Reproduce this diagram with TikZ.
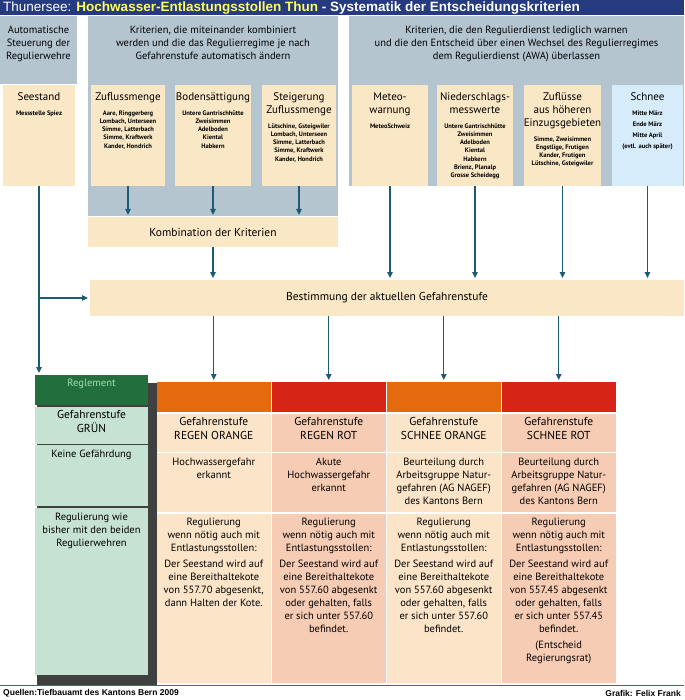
\documentclass[tikz,border=0pt]{standalone}
\usepackage{fontspec}
\setmainfont{PT Sans}
\newfontfamily\arialfont{Liberation Sans}
\usetikzlibrary{positioning, arrows.meta}

\definecolor{titlebg}{RGB}{38,58,128}
\definecolor{titleyel}{RGB}{255,255,90}
\definecolor{blockgray}{RGB}{180,197,208}
\definecolor{sand}{RGB}{250,231,198}
\definecolor{snow}{RGB}{214,236,250}
\definecolor{arrowteal}{RGB}{28,92,114}
\definecolor{regdark}{RGB}{34,110,60}
\definecolor{reglight}{RGB}{198,226,210}
\definecolor{regtext}{RGB}{160,224,170}
\definecolor{stufeorange}{RGB}{228,106,12}
\definecolor{stuferot}{RGB}{214,36,22}
\definecolor{peach}{RGB}{252,228,200}
\definecolor{salmon}{RGB}{247,204,180}
\definecolor{footline}{RGB}{70,96,168}

\begin{document}
\begin{tikzpicture}[x=1pt, y=-1pt,
    panel/.style={anchor=north west, inner sep=0, outer sep=0},
    flow/.style={draw=arrowteal, line width=1.4pt, shorten >=2pt, -{Triangle[length=6pt, width=5.5pt]}},
    blocktext/.style={anchor=north, align=center, inner sep=0, font=\fontsize{10.5}{13}\selectfont},
    boxtitle/.style={anchor=north, align=center, inner sep=0, font=\fontsize{11}{13}\selectfont},
    boxlist/.style={anchor=north, align=center, inner sep=0, font=\fontsize{6.5}{8.2}\selectfont\bfseries},
    celltext/.style={anchor=north, align=center, inner sep=0, font=\fontsize{10.5}{13}\selectfont},
    stufetext/.style={align=center, text depth=8pt, font=\fontsize{11.5}{14}\selectfont}]
  \useasboundingbox (0,0) rectangle (684,700);

  % title bar
  \node[panel, fill=titlebg, minimum width=684pt, minimum height=15.5pt] (titlebar) at (0,0) {};
  \node[anchor=west, inner sep=0, text=white, font=\arialfont\bfseries\fontsize{13.5}{15}\selectfont] (title) at (3,7.8)
    {{\mdseries Thunersee:} \textcolor{titleyel}{Hochwasser-Entlastungsstollen Thun} - Systematik der Entscheidungskriterien};

  % grey groups
  \node[panel, fill=blockgray, minimum width=77pt, minimum height=68pt] (steuerung) at (0,16.5) {};
  \node[panel, fill=blockgray, minimum width=250pt, minimum height=199.5pt] (kombiniert) at (88,16.5) {};
  \node[panel, fill=blockgray, minimum width=335pt, minimum height=169.5pt] (warnen) at (349,16.5) {};
  \node[blocktext, below=9pt of steuerung.north] (steuerung-t) {Automatische\\Steuerung der\\Regulierwehre};
  \node[blocktext, below=9pt of kombiniert.north] (kombiniert-t) {Kriterien, die miteinander kombiniert\\werden und die das Regulierregime je nach\\Gefahrenstufe automatisch ändern};
  \node[blocktext, below=9pt of warnen.north] (warnen-t) {Kriterien, die den Regulierdienst lediglich warnen\\und die den Entscheid über einen Wechsel des Regulierregimes\\dem Regulierdienst (AWA) überlassen};

  % criteria
  \foreach \n/\x/\w/\c/\t/\l in {
      seestand/3/72/sand/{Seestand}/{Messstelle Spiez},
      zufluss/91/74/sand/{Zuflussmenge}/{Aare, Ringgerberg\\Lombach, Unterseen\\Simme, Latterbach\\Simme, Kraftwerk\\Kander, Hondrich},
      boden/175/76/sand/{Bodensättigung}/{Untere Gantrischhütte\\Zweisimmen\\Adelboden\\Kiental\\Habkern},
      steigerung/262/74/sand/{Steigerung\\Zuflussmenge}/{Lütschine, Gsteigwiler\\Lombach, Unterseen\\Simme, Latterbach\\Simme, Kraftwerk\\Kander, Hondrich},
      meteo/352/76/sand/{Meteo-\\warnung}/{MeteoSchweiz},
      nieder/437/76/sand/{Niederschlags-\\messwerte}/{Untere Gantrischhütte\\Zweisimmen\\Adelboden\\Kiental\\Habkern\\Brienz, Planalp\\Grosse Scheidegg},
      hoeher/524/77/sand/{Zuflüsse\\aus höheren\\Einzugsgebieten}/{Simme, Zweisimmen\\Engstlige, Frutigen\\Kander, Frutigen\\Lütschine, Gsteigwiler},
      schnee/612/71/snow/{Schnee}/{Mitte März\\[2.8pt]Ende März\\[2.8pt]Mitte April\\[2.8pt](evtl. auch später)}}
  {
    \node[panel, fill=\c, minimum width=\w pt, minimum height=101pt] (\n) at (\x,85) {};
    \node[boxtitle, below=6pt of \n.north] (\n-t) {\strut\t\strut};
    \node[boxlist, below=6pt of \n-t] (\n-l) {\l};
  }

  \node[panel, fill=sand, minimum width=250pt, minimum height=30pt, font=\fontsize{11.5}{13}\selectfont] (kombi) at (88,217) {Kombination der Kriterien};
  \node[panel, fill=sand, minimum width=594pt, minimum height=36pt, font=\fontsize{11.5}{13}\selectfont] (bestimmung) at (90,280) {Bestimmung der aktuellen Gefahrenstufe};

  % Reglement
  \node[panel, fill=black!75, minimum width=120pt, minimum height=302pt] (shadow) at (37,383) {};
  \node[panel, fill=regdark, minimum width=113pt, minimum height=30pt] (reg-h) at (35,375) {};
  \node[anchor=north, inner sep=0, text=regtext, font=\fontsize{10.5}{12}\selectfont, below=4pt of reg-h.north] (reg-h-t) {Reglement};
  \node[panel, fill=reglight, minimum width=113pt, minimum height=37pt, stufetext] (reg-s) at (35,406.5) {Gefahrenstufe\\GRÜN};
  \node[panel, fill=reglight, minimum width=113pt, minimum height=61pt] (reg-d) at (35,445) {};
  \node[panel, fill=reglight, minimum width=113pt, minimum height=167pt] (reg-r) at (35,508) {};
  \node[celltext, below=5pt of reg-d.north] (reg-d-t) {Keine Gefährdung};
  \node[celltext, below=5pt of reg-r.north] (reg-r-t) {Regulierung wie\\bisher mit den beiden\\Regulierwehren};

  % Gefahrenstufen
  \foreach \i/\x/\hc/\bc/\stufe in {1/157/stufeorange/peach/{REGEN ORANGE}, 2/272/stuferot/salmon/{REGEN ROT},
      3/387/stufeorange/peach/{SCHNEE ORANGE}, 4/502/stuferot/salmon/{SCHNEE ROT}}
  {
    \node[panel, fill=\hc, minimum width=113.5pt, minimum height=30pt] (h\i) at (\x,382) {};
    \node[panel, fill=\bc, minimum width=113.5pt, minimum height=38pt, stufetext] (s\i) at (\x,413.5) {Gefahrenstufe\\\stufe};
    \node[panel, fill=\bc, minimum width=113.5pt, minimum height=58.5pt] (d\i) at (\x,453) {};
    \node[panel, fill=\bc, minimum width=113.5pt, minimum height=169pt] (r\i) at (\x,514) {};
  }
  \node[celltext, below=5pt of d1.north] (d1-t) {Hochwassergefahr\\erkannt};
  \node[celltext, below=5pt of d2.north] (d2-t) {Akute\\Hochwassergefahr\\erkannt};
  \node[celltext, below=5pt of d3.north] (d3-t) {Beurteilung durch\\Arbeitsgruppe Natur-\\gefahren (AG NAGEF)\\des Kantons Bern};
  \node[celltext, below=5pt of d4.north] (d4-t) {Beurteilung durch\\Arbeitsgruppe Natur-\\gefahren (AG NAGEF)\\des Kantons Bern};
  \node[celltext, below=4pt of r1.north] (r1-t) {Regulierung\\wenn nötig auch mit\\Entlastungsstollen:\\[3pt]Der Seestand wird auf\\eine Bereithaltekote\\von 557.70 abgesenkt,\\dann Halten der Kote.};
  \node[celltext, below=4pt of r2.north] (r2-t) {Regulierung\\wenn nötig auch mit\\Entlastungsstollen:\\[3pt]Der Seestand wird auf\\eine Bereithaltekote\\von 557.60 abgesenkt\\oder gehalten, falls\\er sich unter 557.60\\befindet.};
  \node[celltext, below=4pt of r3.north] (r3-t) {Regulierung\\wenn nötig auch mit\\Entlastungsstollen:\\[3pt]Der Seestand wird auf\\eine Bereithaltekote\\von 557.60 abgesenkt\\oder gehalten, falls\\er sich unter 557.60\\befindet.};
  \node[celltext, below=4pt of r4.north] (r4-t) {Regulierung\\wenn nötig auch mit\\Entlastungsstollen:\\[3pt]Der Seestand wird auf\\eine Bereithaltekote\\von 557.45 abgesenkt\\oder gehalten, falls\\er sich unter 557.45\\befindet.\\[3pt](Entscheid\\Regierungsrat)};

  % arrows
  \draw[flow] (seestand.south) -- (seestand.south |- reg-h.north);
  \coordinate (branch) at (seestand.south |- bestimmung.west);
  \draw[flow] (branch) -- (bestimmung.west);
  \foreach \n in {zufluss, boden, steigerung}
    \draw[flow] (\n.south) -- (\n.south |- kombi.north);
  \draw[flow] (kombi.south) -- (kombi.south |- bestimmung.north);
  \foreach \n in {meteo, nieder, hoeher, schnee}
    \draw[flow] (\n.south) -- (\n.south |- bestimmung.north);
  \foreach \i in {1,...,4}
    \draw[flow] (bestimmung.south -| h\i.north) -- (h\i.north);

  % footer
  \draw[footline, line width=1pt] (0,685) -- (684,685);
  \node[anchor=west, inner sep=0, font=\arialfont\bfseries\fontsize{8.5}{9}\selectfont] (quelle) at (3,693) {Quellen:Tiefbauamt des Kantons Bern 2009};
  \node[anchor=east, inner sep=0, font=\arialfont\bfseries\fontsize{8.5}{9}\selectfont] (grafik) at (681,693) {Grafik: Felix Frank};
\end{tikzpicture}
\end{document}
